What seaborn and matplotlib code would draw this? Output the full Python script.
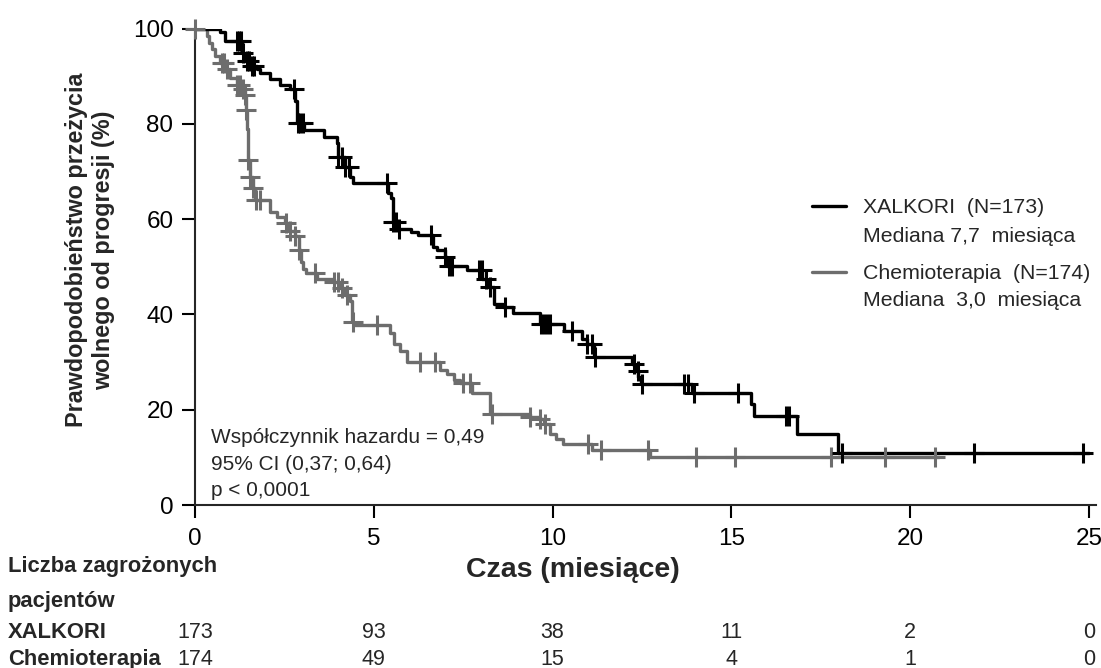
import numpy as np
import pandas as pd
import matplotlib
matplotlib.use("Agg")
import matplotlib.pyplot as plt
import matplotlib.transforms as mtransforms
from matplotlib.lines import Line2D
import seaborn as sns

# ---------------- data ----------------
xalk_time = [0, 0.70, 0.84, 1.31, 1.40, 1.54, 1.73, 1.83, 2.10, 2.38, 2.66, 2.80, 2.85, 3.04,
             3.60, 3.97, 4.00, 4.20, 4.34, 4.43, 5.40, 5.47, 5.55, 5.65, 6.04, 6.25, 6.67,
             6.76, 6.98, 7.05, 7.61, 8.03, 8.17, 8.35, 8.62, 8.90, 9.66, 10.32, 10.83, 10.95,
             11.16, 12.22, 12.32, 12.40, 12.48, 13.90, 15.55, 15.64, 16.85, 17.98, 25.0]
xalk_surv = [100, 99.2, 97.3, 94.9, 93.1, 92.1, 91.4, 90.7, 89.3, 88.2, 87.2, 84.7, 80.1, 78.7,
             77.3, 75.9, 73.1, 71.0, 68.9, 67.6, 65.5, 64.4, 59.4, 58.0, 57.3, 56.6, 54.2,
             53.5, 52.1, 50.1, 49.4, 47.5, 45.8, 42.2, 41.5, 40.2, 38.0, 36.6, 34.9, 33.8,
             31.0, 29.6, 28.2, 26.8, 25.4, 23.4, 21.2, 18.7, 14.8, 11.0, 11.0]
xalk_cens = [1.17, 1.24, 1.29, 1.35, 1.45, 1.50, 1.60, 1.66, 2.78, 2.87, 2.95, 3.02,
             4.00, 4.10, 4.20, 4.30, 5.38, 5.55, 5.62, 5.70, 6.60, 7.00, 7.10, 7.20,
             7.95, 8.02, 8.15, 8.25, 8.68, 9.68, 9.75, 9.85, 9.92, 10.55, 10.97, 11.10, 11.20,
             12.28, 12.38, 12.50, 13.68, 13.80, 13.95, 15.20, 16.52, 16.62, 18.10, 21.80, 24.83]

chemo_time = [0, 0.33, 0.40, 0.47, 0.56, 0.70, 0.84, 0.98, 1.17, 1.31, 1.40, 1.43, 1.45, 1.47,
              1.49, 1.53, 1.62, 1.68, 2.10, 2.29, 2.52, 2.62, 2.80, 2.90, 2.96, 3.02, 3.10,
              3.41, 3.88, 4.05, 4.20, 4.34, 4.40, 4.45, 5.46, 5.56, 5.74, 5.93, 6.85, 7.05,
              7.25, 7.40, 7.75, 8.25, 9.38, 9.66, 9.75, 9.93, 10.10, 10.30, 11.10, 12.72, 20.80]
chemo_surv = [100, 98.5, 97.0, 95.8, 94.2, 92.8, 91.4, 89.6, 88.2, 87.2, 86.0, 83.0, 79.0, 75.0,
              72.4, 68.8, 66.5, 64.0, 61.5, 60.5, 59.1, 57.5, 56.5, 53.5, 51.0, 49.6, 48.6,
              47.5, 46.8, 45.5, 44.0, 42.9, 38.4, 37.7, 36.0, 33.8, 32.4, 30.0, 28.4, 27.4,
              26.3, 25.5, 23.4, 19.2, 18.4, 18.0, 17.0, 14.9, 13.8, 12.9, 11.5, 10.1, 10.1]
chemo_cens = [0.0, 0.75, 0.82, 0.90, 1.17, 1.25, 1.35, 1.40, 1.43, 1.49, 1.53, 1.62, 1.72,
              1.82, 2.55, 2.65, 2.80, 2.92, 3.37, 3.90, 4.00, 4.10, 4.25, 4.42, 5.10, 6.30,
              6.70, 7.50, 7.70, 8.30, 9.38, 9.66, 9.80, 11.00, 11.35, 12.67, 14.00, 15.10,
              17.80, 19.30, 20.70]

risk_times = [0, 5, 10, 15, 20, 25]
risk_xalk = [173, 93, 38, 11, 2, 0]
risk_chemo = [174, 49, 15, 4, 1, 0]

xticks = [0, 5, 10, 15, 20, 25]
yticks = [0, 20, 40, 60, 80, 100]

BLACK = "#000000"
GRAY = "#6d6d6d"

# ---------------- style ----------------
sns.set_theme(style="ticks")
plt.rcParams["font.family"] = ["Liberation Sans", "DejaVu Sans"]
plt.rcParams["axes.linewidth"] = 1.5

fig = plt.figure(figsize=(11.01, 6.68), dpi=100)
ax = fig.add_axes([195 / 1101, 1 - 505 / 668, (1096 - 195) / 1101, (505 - 28.5) / 668])


def step_value(times, surv, t):
    idx = np.searchsorted(times, t, side="right") - 1
    return np.asarray(surv)[idx]


for times, surv, cens, col in [(chemo_time, chemo_surv, chemo_cens, GRAY),
                               (xalk_time, xalk_surv, xalk_cens, BLACK)]:
    df = pd.DataFrame({"t": times, "s": surv})
    sns.lineplot(data=df, x="t", y="s", ax=ax, color=col, linewidth=2.4,
                 drawstyle="steps-post", estimator=None, sort=False, legend=False,
                 zorder=3)
    cdf = pd.DataFrame({"t": cens, "s": step_value(np.array(times), surv, np.array(cens))})
    sns.scatterplot(data=cdf, x="t", y="s", ax=ax, marker="+", s=190, linewidth=2.2,
                    color=col, legend=False, zorder=4, clip_on=False)

ax.set_xlim(0, 25.2)
ax.set_ylim(0, 100)
ax.set_xticks(xticks)
ax.set_yticks(yticks)
ax.set_xticklabels([str(v) for v in xticks])
ax.set_yticklabels([str(v) for v in yticks])
sns.despine(ax=ax)
ax.tick_params(axis="both", length=9.5, width=1.5, labelsize=17.5, color="black",
               labelcolor="black")
ax.tick_params(axis="x", pad=7)
ax.tick_params(axis="y", pad=6)

ax.set_xlabel("")
ax.set_ylabel("Prawdopodobieństwo przeżycia\nwolnego od progresji (%)", fontsize=16.8,
              fontweight="bold", linespacing=1.2)
ax.yaxis.set_label_coords(-0.089, 0.535)

# x-axis title
fig.text(573 / 1101, 1 - 577 / 668, "Czas (miesiące)", fontsize=20.5, fontweight="bold",
         ha="center", va="baseline")

# statistics text
stats_lines = ["Współczynnik hazardu = 0,49", "95% CI (0,37; 0,64)", "p < 0,0001"]
stats_base = [443, 470, 496]
for line, yb in zip(stats_lines, stats_base):
    fig.text(211 / 1101, 1 - yb / 668, line, fontsize=15, ha="left", va="baseline")

# legends
h_black = Line2D([], [], color=BLACK, linewidth=2.4)
h_gray = Line2D([], [], color=GRAY, linewidth=2.4)
h_none = Line2D([], [], color="none", linewidth=0)
leg1 = ax.legend([h_black, h_none], ["XALKORI  (N=173)", "Mediana 7,7  miesiąca"],
                 loc="upper left", bbox_to_anchor=(812 / 1101, 1 - 198 / 668),
                 bbox_transform=fig.transFigure, frameon=False, borderpad=0,
                 borderaxespad=0, handlelength=1.6, handletextpad=0.8,
                 labelspacing=0.45, fontsize=15.3)
ax.add_artist(leg1)
leg2 = ax.legend([h_gray, h_none], ["Chemioterapia  (N=174)", "Mediana  3,0  miesiąca"],
                 loc="upper left", bbox_to_anchor=(812 / 1101, 1 - 264 / 668),
                 bbox_transform=fig.transFigure, frameon=False, borderpad=0,
                 borderaxespad=0, handlelength=1.6, handletextpad=0.8,
                 labelspacing=0.4, fontsize=15.3)

# number at risk table
row_fs = 15.8
fig.text(8 / 1101, 1 - 572 / 668, "Liczba zagrożonych", fontsize=row_fs, fontweight="bold",
         ha="left", va="baseline")
fig.text(8 / 1101, 1 - 607 / 668, "pacjentów", fontsize=row_fs, fontweight="bold",
         ha="left", va="baseline")
fig.text(8 / 1101, 1 - 638 / 668, "XALKORI", fontsize=row_fs, fontweight="bold",
         ha="left", va="baseline")
fig.text(8 / 1101, 1 - 665 / 668, "Chemioterapia", fontsize=row_fs, fontweight="bold",
         ha="left", va="baseline")
trans = mtransforms.blended_transform_factory(ax.transData, fig.transFigure)
for t, a, b in zip(risk_times, risk_xalk, risk_chemo):
    ax.text(t, 1 - 638 / 668, str(a), transform=trans, fontsize=15.5, ha="center",
            va="baseline", clip_on=False)
    ax.text(t, 1 - 665 / 668, str(b), transform=trans, fontsize=15.5, ha="center",
            va="baseline", clip_on=False)

fig.savefig("out.png", dpi=100)
